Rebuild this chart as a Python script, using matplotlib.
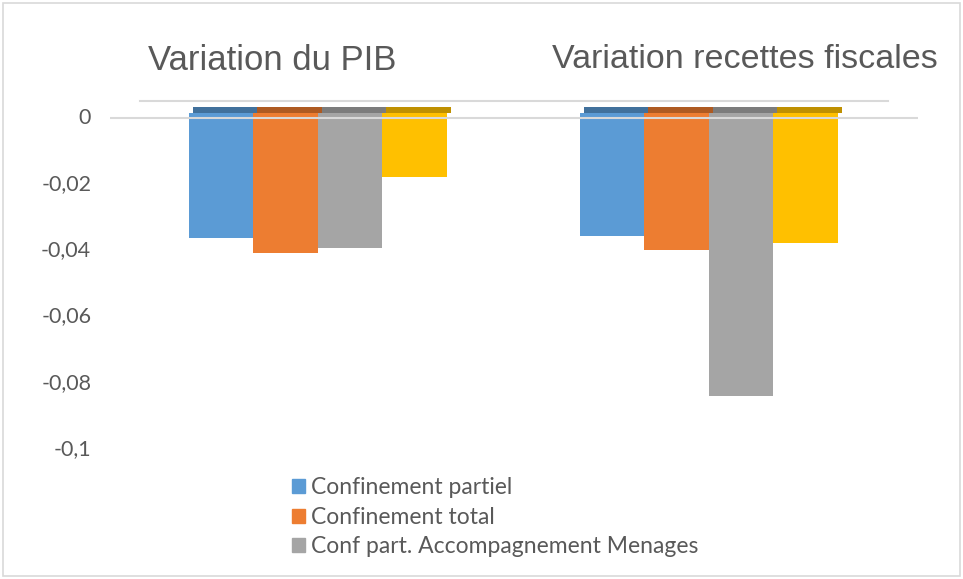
import matplotlib
matplotlib.use("Agg")
import matplotlib.pyplot as plt
import numpy as np
from matplotlib.patches import Rectangle

categories = ["Variation du PIB", "Variation recettes fiscales"]
series_names = ["Confinement partiel", "Confinement total",
                "Conf part. Accompagnement Menages", "Série 4"]
conf_partiel = [-0.0362, -0.0356]
conf_total = [-0.0408, -0.0399]
conf_accomp = [-0.0393, -0.0839]
serie4 = [-0.0178, -0.0377]
series = [conf_partiel, conf_total, conf_accomp, serie4]
colors = ["#5B9BD5", "#ED7D31", "#A5A5A5", "#FFC000"]
top_colors = ["#41719C", "#AE5A21", "#7C7C7C", "#BF9000"]
yticks = [0, -0.02, -0.04, -0.06, -0.08, -0.1]
ytick_labels = ["0", "-0,02", "-0,04", "-0,06", "-0,08", "-0,1"]

W, H = 963, 579
fig = plt.figure(figsize=(W / 100, H / 100), dpi=100)
fig.patch.set_facecolor("white")

# axes from x=110..918 px, y=101..449 px
ax = fig.add_axes([110 / W, 1 - 449 / H, (918 - 110) / W, (449 - 101) / H])
ytop = 0.00513
ax.set_ylim(-0.1, ytop)
ax.set_xlim(-0.532, 1.535)
ax.axis("off")

x = np.arange(len(categories))
width = 0.165
offsets = [-1.5, -0.5, 0.5, 1.5]
face_top = 0.0015
for vals, off, c, tc in zip(series, offsets, colors, top_colors):
    vals = np.asarray(vals)
    ax.bar(x + off * width, vals - face_top, width=width, bottom=face_top,
           color=c, edgecolor="none", zorder=2)
    ax.bar(x + off * width + 0.01, 0.0018, width=width, bottom=face_top,
           color=tc, edgecolor="none", zorder=1)

# zero gridline (front) and back line
ax.axhline(0, color="#D9D9D9", lw=1.5, zorder=3)
xl0, xl1 = ax.get_xlim()
ax.plot([xl0 + (140 - 110) / 808 * (xl1 - xl0), xl0 + (888 - 110) / 808 * (xl1 - xl0)],
        [ytop, ytop], color="#D9D9D9", lw=1.5, zorder=0, clip_on=False)

# y tick labels
for v, lab in zip(yticks, ytick_labels):
    ax.text(-0.58, v, lab, ha="right", va="center", fontsize=15.5,
            color="#595959", family="Lato")

# category labels at top
fig.text(272 / W, 1 - 60 / H, categories[0], ha="center", va="center",
         fontsize=25, color="#595959", family="Liberation Sans")
fig.text(745 / W, 1 - 60 / H, categories[1], ha="center", va="center",
         fontsize=24.5, color="#595959", family="Liberation Sans")

# legend (3 visible entries)
handles = [Rectangle((0, 0), 1, 1, color=c) for c in colors[:3]]
leg = fig.legend(handles, series_names[:3], loc="upper left",
                 bbox_to_anchor=(292 / W, 1 - 477 / H), frameon=False,
                 prop={"family": "Lato", "size": 16.5}, labelcolor="#595959",
                 handlelength=0.55, handleheight=0.55, handletextpad=0.3,
                 labelspacing=0.38, borderpad=0, borderaxespad=0)

# figure border
fig.add_artist(Rectangle((3 / W, 3 / H), (W - 6) / W, (H - 6) / H,
                         transform=fig.transFigure, fill=False,
                         edgecolor="#D9D9D9", lw=1.2))

fig.savefig("out.png", dpi=100)
